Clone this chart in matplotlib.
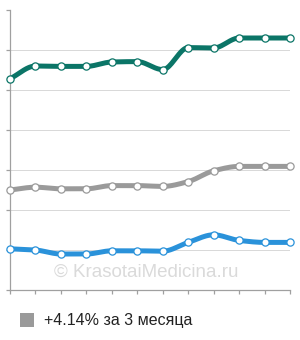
import numpy as np
import matplotlib
matplotlib.use("Agg")
import matplotlib.pyplot as plt

plt.rcParams["font.family"] = ["Liberation Sans", "DejaVu Sans"]

months = list(range(12))
teal_vals = [5.28, 5.60, 5.59, 5.59, 5.70, 5.71, 5.51, 6.06, 6.05, 6.30, 6.30, 6.30]
gray_vals = [2.50, 2.57, 2.53, 2.53, 2.61, 2.61, 2.59, 2.71, 2.98, 3.09, 3.09, 3.09]
blue_vals = [1.03, 1.00, 0.90, 0.90, 0.98, 0.98, 0.97, 1.19, 1.38, 1.24, 1.19, 1.19]
legend_label = "+4.14% за 3 месяца"
watermark = "© KrasotaiMedicina.ru"


def pchip(x, y, n=20):
    x = np.asarray(x, float); y = np.asarray(y, float)
    h = np.diff(x); d = np.diff(y) / h
    m = np.zeros_like(y)
    for k in range(1, len(y) - 1):
        if d[k - 1] * d[k] > 0:
            w1 = 2 * h[k] + h[k - 1]; w2 = h[k] + 2 * h[k - 1]
            m[k] = (w1 + w2) / (w1 / d[k - 1] + w2 / d[k])
    m[0] = d[0]; m[-1] = d[-1]
    xs, ys = [], []
    for k in range(len(x) - 1):
        t = np.linspace(0, 1, n, endpoint=False)
        h00 = 2*t**3 - 3*t**2 + 1; h10 = t**3 - 2*t**2 + t
        h01 = -2*t**3 + 3*t**2; h11 = t**3 - t**2
        xs.append(x[k] + t * h[k])
        ys.append(h00*y[k] + h10*h[k]*m[k] + h01*y[k+1] + h11*h[k]*m[k+1])
    xs.append([x[-1]]); ys.append([y[-1]])
    return np.concatenate(xs), np.concatenate(ys)


fig = plt.figure(figsize=(3.0, 3.4), dpi=100)
ax = fig.add_axes([10/300, 50/340, 280/300, 280/340])
ax.set_xlim(0, 11)
ax.set_ylim(0, 7)

for v in range(1, 7):
    ax.axhline(v, color="#d8d8d8", lw=0.7, zorder=0)

ax.text(5.35, 0.45, watermark, fontsize=13.5, color="#dadada", ha="center", va="center", zorder=1)

for vals, col in [(teal_vals, "#0b7567"), (gray_vals, "#9a9a9a"), (blue_vals, "#2a92da")]:
    sx, sy = pchip(months, vals)
    ax.plot(sx, sy, color=col, lw=3.6, solid_capstyle="round", zorder=2, clip_on=False)
    ax.plot(months, vals, "o", ms=5.2, mfc="white", mec=col, mew=0.9, zorder=3, clip_on=False)

for s in ["top", "right"]:
    ax.spines[s].set_visible(False)
for s in ["left", "bottom"]:
    ax.spines[s].set_color("#a0a0a0")
    ax.spines[s].set_linewidth(0.9)
ax.set_xticks(months)
ax.set_yticks(range(0, 8))
ax.tick_params(axis="both", colors="#a0a0a0", length=3, width=0.9, labelleft=False, labelbottom=False)

fig.patches.append(plt.Rectangle((20/300, 1 - 327/340), 14/300, 14/340, transform=fig.transFigure,
                                 facecolor="#9a9a9a", edgecolor="none"))
fig.text(44/300, 1 - 320/340, legend_label, fontsize=11.5, color="#222222", va="center", ha="left")

fig.savefig("out.png", dpi=100)
